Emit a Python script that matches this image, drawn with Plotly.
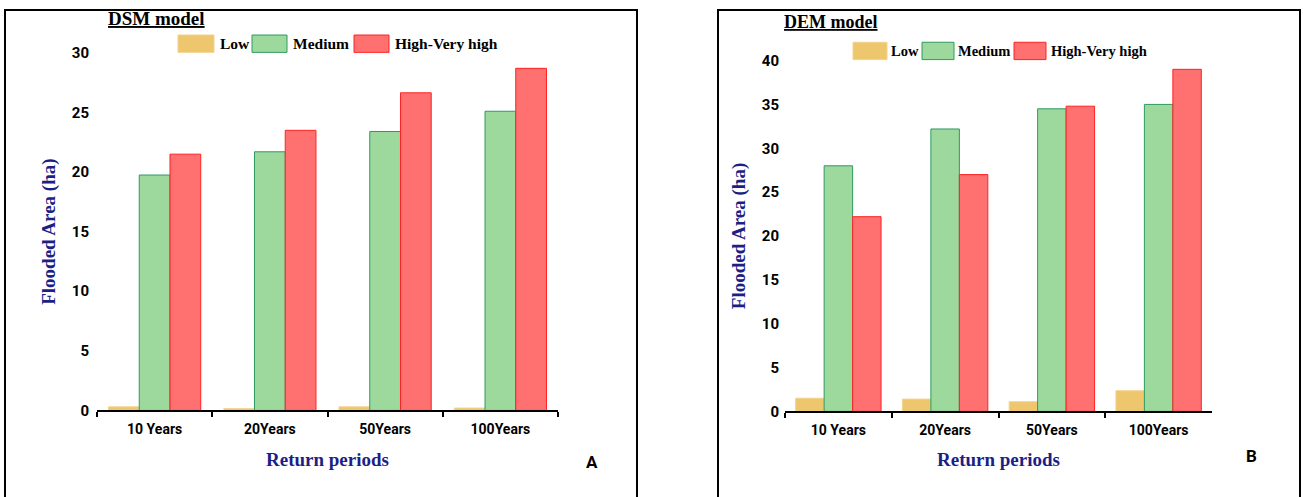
import plotly.graph_objects as go

categories = ["10 Years", "20Years", "50Years", "100Years"]
series_names = ["Low", "Medium", "High-Very high"]

dsm_low = [0.3, 0.15, 0.3, 0.2]
dsm_medium = [19.75, 21.7, 23.4, 25.1]
dsm_high = [21.5, 23.5, 26.65, 28.7]

dem_low = [1.5, 1.4, 1.1, 2.35]
dem_medium = [28.0, 32.2, 34.5, 35.0]
dem_high = [22.2, 27.0, 34.8, 39.0]

W, H = 1303, 497
fills = ["#EDC66E", "#9DD89D", "#FF7070"]
lines = ["#F2D38C", "#2E9A60", "#FF2222"]
navy = "#1C1F86"
serif = "Liberation Serif"
sans = "Roboto"

def px(x):
    return x / W

def py(y):
    return 1 - y / H

fig = go.Figure()

for vals, nm, fc, lc in zip([dsm_low, dsm_medium, dsm_high], series_names, fills, lines):
    fig.add_trace(go.Bar(x=categories, y=vals, name=nm, legendgroup=nm, showlegend=False,
                         marker=dict(color=fc, line=dict(color=lc, width=1)), xaxis="x", yaxis="y"))
for vals, nm, fc, lc in zip([dem_low, dem_medium, dem_high], series_names, fills, lines):
    fig.add_trace(go.Bar(x=categories, y=vals, name=nm, legendgroup=nm, showlegend=False,
                         marker=dict(color=fc, line=dict(color=lc, width=1)), xaxis="x2", yaxis="y2"))

def xaxis_style():
    return dict(type="category", showline=True, linecolor="black", linewidth=2,
                ticks="outside", tickson="boundaries", ticklen=5, tickwidth=1.5, tickcolor="black",
                showgrid=False, zeroline=False, ticklabelstandoff=5,
                tickfont=dict(family=sans, size=14, weight="bold", color="black"),
                title=dict(text="Return periods", font=dict(family=serif, size=19, weight="bold", color=navy),
                           standoff=16))

def yaxis_style(label_standoff):
    return dict(showline=False, ticks="", showgrid=False, zeroline=False, dtick=5,
                ticklabelstandoff=label_standoff,
                tickfont=dict(family=sans, size=15, weight="bold", color="black"),
                title=dict(text="Flooded Area (ha)", font=dict(family=serif, size=19, weight="bold", color=navy),
                           standoff=11))

centerticks = dict(type="linear", showline=False, showgrid=False, zeroline=False, showticklabels=False,
                   ticks="outside", ticklen=5, tickwidth=1.5, tickcolor="black", tickmode="array",
                   tickvals=list(range(len(categories))), range=[-0.5, len(categories) - 0.5])

# hand-placed legend boxes (swatch x0, x1, text x) per panel, plus vertical placement
legend_left = dict(swatches=[(178, 214, 218), (252, 287, 291), (354, 389, 393)], y0=27, y1=45, ty=36, size=15.5)
legend_right = dict(swatches=[(853, 887, 889), (922, 954, 956), (1014, 1046, 1049)], y0=34.5, y1=52.5, ty=43.5, size=14.5)

shapes = [
    dict(type="rect", xref="paper", yref="paper", x0=px(5), x1=px(637), y0=-0.1, y1=py(1),
         line=dict(color="black", width=2)),
    dict(type="rect", xref="paper", yref="paper", x0=px(718), x1=px(1300), y0=-0.1, y1=py(1),
         line=dict(color="black", width=2)),
]
annotations = [
    dict(text="<u>DSM model</u>", x=px(106), y=py(10), xref="paper", yref="paper", xanchor="left",
         yanchor="middle", showarrow=False, font=dict(family=serif, size=19, weight="bold", color="black")),
    dict(text="<u>DEM model</u>", x=px(782), y=py(14), xref="paper", yref="paper", xanchor="left",
         yanchor="middle", showarrow=False, font=dict(family=serif, size=18, weight="bold", color="black")),
    dict(text="A", x=px(592), y=py(470), xref="paper", yref="paper", xanchor="center", yanchor="middle",
         showarrow=False, font=dict(family=sans, size=17, weight="bold", color="black")),
    dict(text="B", x=px(1251), y=py(464), xref="paper", yref="paper", xanchor="center", yanchor="middle",
         showarrow=False, font=dict(family=sans, size=17, weight="bold", color="black")),
]
for lg in (legend_left, legend_right):
    for (x0, x1, tx), nm, fc, lc in zip(lg["swatches"], series_names, fills, lines):
        shapes.append(dict(type="rect", xref="paper", yref="paper", x0=px(x0), x1=px(x1),
                           y0=py(lg["y1"]), y1=py(lg["y0"]), fillcolor=fc, line=dict(color=lc, width=1)))
        annotations.append(dict(text=nm, x=px(tx), y=py(lg["ty"]), xref="paper", yref="paper",
                                xanchor="left", yanchor="middle", showarrow=False,
                                font=dict(family=serif, size=lg["size"], weight="bold", color="black")))

fig.update_layout(
    width=W, height=H, margin=dict(l=0, r=0, t=0, b=0),
    paper_bgcolor="white", plot_bgcolor="white",
    barmode="group", bargap=0.2, bargroupgap=0,
    showlegend=False,
    xaxis=dict(domain=[px(97), px(558)], anchor="y", **xaxis_style()),
    yaxis=dict(domain=[py(416.5), py(45.5)], anchor="x", range=[0, 30], **yaxis_style(7)),
    xaxis2=dict(domain=[px(785), px(1212)], anchor="y2", **xaxis_style()),
    yaxis2=dict(domain=[py(417.5), py(53.5)], anchor="x2", range=[0, 40], **yaxis_style(5)),
    xaxis3=dict(domain=[px(97), px(558)], anchor="y", overlaying="x", **centerticks),
    xaxis4=dict(domain=[px(785), px(1212)], anchor="y2", overlaying="x2", **centerticks),
    shapes=shapes,
    annotations=annotations,
)

fig.write_html("out.html")
